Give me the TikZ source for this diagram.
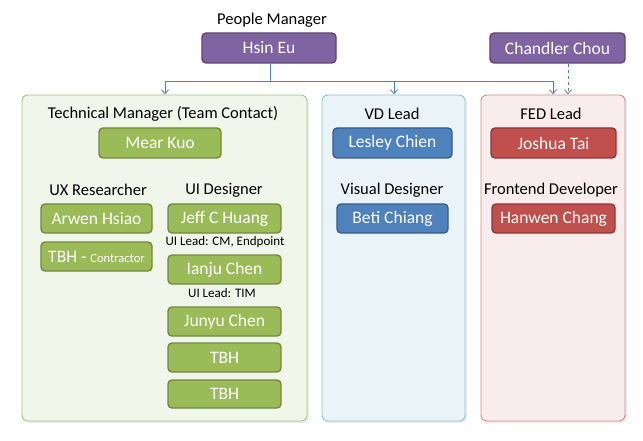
\documentclass[tikz,border=0pt]{standalone}
\usepackage{fontspec}
\setmainfont{Carlito}
\usetikzlibrary{arrows.meta}
\definecolor{pfill}{HTML}{8064A2}\definecolor{pline}{HTML}{5C4776}
\definecolor{gfill}{HTML}{9BBB59}\definecolor{gline}{HTML}{71893F}
\definecolor{bfill}{HTML}{4F81BD}\definecolor{bline}{HTML}{385D8A}
\definecolor{rfill}{HTML}{C0504D}\definecolor{rline}{HTML}{8C3836}
\definecolor{gbg}{HTML}{F1F6EA}\definecolor{gbgl}{HTML}{A9C47F}
\definecolor{bbg}{HTML}{EAF4F8}\definecolor{bbgl}{HTML}{8EC3D6}
\definecolor{rbg}{HTML}{F8ECEC}\definecolor{rbgl}{HTML}{D58A88}
\definecolor{conn}{HTML}{4F81BD}
\tikzset{
  person/.style={draw, line width=1.4pt, rounded corners=4pt, text=white, font=\fontsize{17.5}{19}\selectfont, inner sep=0pt},
  grp/.style={draw, line width=0.9pt, rounded corners=6pt},
  role/.style={font=\fontsize{16.5}{18}\selectfont, inner sep=0pt},
  note/.style={font=\fontsize{13}{14}\selectfont, inner sep=0pt},
  link/.style={draw=conn, line width=0.8pt},
  tip/.style={-{Straight Barb[length=4pt,width=7pt]}}
}
\newcommand{\pbox}[7]{% name, x1,y1,x2,y2, style, text
  \node[person,#6, minimum width={(#4-#2)*1pt}, minimum height={(#5-#3)*1pt}] (#1) at ({(#2+#4)/2},{(#3+#5)/2}) {#7};}
\begin{document}
\begin{tikzpicture}[x=1pt,y=-1pt]
\useasboundingbox (0,0) rectangle (643,441);
% containers
\fill[black!8, rounded corners=6pt] (24,97) rectangle (309,423);
\path[grp, draw=gbgl, fill=gbg] (22,95) rectangle (307,421);
\node[inner sep=0pt] (gtop) at (165,95) {};
\fill[black!8, rounded corners=6pt] (324,97) rectangle (467,423);
\path[grp, draw=bbgl, fill=bbg] (322,95) rectangle (465,421);
\node[inner sep=0pt] (btop) at (394,95) {};
\fill[black!8, rounded corners=6pt] (483,97) rectangle (627,423);
\path[grp, draw=rbgl, fill=rbg] (481,95) rectangle (625,421);
\node[inner sep=0pt] (rtop) at (553,95) {};
\node[inner sep=0pt] (rtop2) at (568,95) {};
% top
\node[role] (pm) at (272,20) {People Manager};
\pbox{hsin}{202}{33}{336}{63}{fill=pfill,draw=pline}{Hsin Eu}
\pbox{chandler}{490}{33}{625}{63}{fill=pfill,draw=pline}{Chandler Chou}
\coordinate (j) at (270,81);
\draw[link] (hsin.south -| j) -- (j);
\draw[link,tip] (j) -| (gtop);
\draw[link,tip] (j) -| (btop);
\draw[link,tip] (j) -| (rtop);
\draw[link,tip,dashed] (chandler.south -| rtop2) -- (rtop2);
% green group
\node[role] (tm) at (163,114) {Technical Manager (Team Contact)};
\pbox{mear}{99}{128}{221}{158}{fill=gfill,draw=gline}{Mear Kuo}
\node[role] (uxr) at (98,190) {UX Researcher};
\node[role] (uid) at (224,190) {UI Designer};
\pbox{arwen}{41}{204}{152}{233}{fill=gfill,draw=gline}{Arwen Hsiao}
\pbox{tbhc}{41}{242}{152}{271}{fill=gfill,draw=gline}{TBH - {\fontsize{12.5}{13}\selectfont Contractor}}
\pbox{jeff}{168}{204}{281}{233}{fill=gfill,draw=gline}{Jeff C Huang}
\node[note] (n1) at (225,242) {UI Lead: CM, Endpoint};
\pbox{ianju}{168}{255}{281}{284}{fill=gfill,draw=gline}{Ianju Chen}
\node[note] (n2) at (222,293) {UI Lead: TIM};
\pbox{junyu}{168}{307}{281}{336}{fill=gfill,draw=gline}{Junyu Chen}
\pbox{tbh1}{168}{343}{281}{372}{fill=gfill,draw=gline}{TBH}
\pbox{tbh2}{168}{380}{281}{408}{fill=gfill,draw=gline}{TBH}
% blue group
\node[role] (vdl) at (392,114) {VD Lead};
\pbox{lesley}{333}{128}{452}{158}{fill=bfill,draw=bline}{Lesley Chien}
\node[role] (vd) at (392,190) {Visual Designer};
\pbox{beti}{337}{204}{448}{233}{fill=bfill,draw=bline}{Beti Chiang}
% red group
\node[role] (fedl) at (551,114) {FED Lead};
\pbox{joshua}{491}{128}{616}{158}{fill=rfill,draw=rline}{Joshua Tai}
\node[role] (fd) at (551,190) {Frontend Developer};
\pbox{hanwen}{492}{204}{615}{233}{fill=rfill,draw=rline}{Hanwen Chang}
\end{tikzpicture}
\end{document}
